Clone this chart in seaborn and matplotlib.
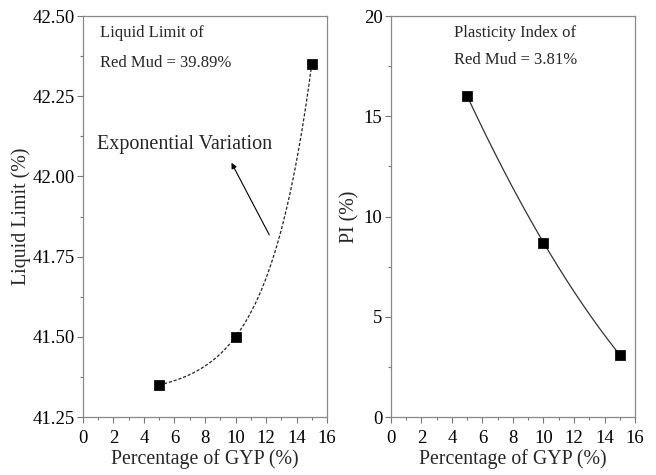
import numpy as np
import pandas as pd
import matplotlib
matplotlib.use("Agg")
import matplotlib.pyplot as plt
from matplotlib.ticker import MultipleLocator, FormatStrFormatter
import seaborn as sns

# Data
gyp = [5, 10, 15]
liquid_limit = [41.35, 41.50, 42.35]
plasticity_index = [16.0, 8.7, 3.1]

x_ticks = [0, 2, 4, 6, 8, 10, 12, 14, 16]
ll_ticks = [41.25, 41.50, 41.75, 42.00, 42.25, 42.50]
pi_ticks = [0, 5, 10, 15, 20]

sns.set_style("ticks")
plt.rcParams['font.family'] = ['Liberation Serif', 'DejaVu Serif']
plt.rcParams['mathtext.fontset'] = 'stix'

fig = plt.figure(figsize=(6.56, 4.75), dpi=100)
ax1 = fig.add_axes([0.1265, 0.1221, 0.372, 0.8442])
ax2 = fig.add_axes([0.596, 0.1221, 0.372, 0.8442])

df = pd.DataFrame({"gyp": gyp, "ll": liquid_limit, "pi": plasticity_index})

# Exponential fit through the three points: y = a + b*exp(c x)
x = np.array(gyp, float)
y = np.array(liquid_limit, float)
c = np.log((y[2] - y[1]) / (y[1] - y[0])) / (x[2] - x[1])
b = (y[1] - y[0]) / (np.exp(c * x[1]) - np.exp(c * x[0]))
a = y[0] - b * np.exp(c * x[0])
xs = np.linspace(x[0], x[2], 200)
fit_ll = pd.DataFrame({"gyp": xs, "ll": a + b * np.exp(c * xs)})

# Quadratic curve through PI points
coef = np.polyfit(x, np.array(plasticity_index, float), 2)
fit_pi = pd.DataFrame({"gyp": xs, "pi": np.polyval(coef, xs)})

sns.lineplot(data=fit_ll, x="gyp", y="ll", ax=ax1, color="#222222",
             linestyle=(0, (2.5, 1.5)), linewidth=0.9)
sns.scatterplot(data=df, x="gyp", y="ll", ax=ax1, marker="s", color="black",
                s=45, edgecolor="black", zorder=5)

sns.lineplot(data=fit_pi, x="gyp", y="pi", ax=ax2, color="#333333", linewidth=0.9)
sns.scatterplot(data=df, x="gyp", y="pi", ax=ax2, marker="s", color="black",
                s=45, edgecolor="black", zorder=5)

for ax in (ax1, ax2):
    ax.set_xlim(0, 16)
    ax.set_xticks(x_ticks)
    ax.xaxis.set_minor_locator(MultipleLocator(1))
    ax.set_xlabel("Percentage of GYP (%)", fontsize=14.3, labelpad=2)
    ax.tick_params(axis="both", which="major", direction="out", length=4,
                   width=0.8, color="#777777", labelsize=13.5, labelcolor="black")
    ax.tick_params(axis="x", which="major", pad=5)
    ax.tick_params(axis="y", which="major", pad=2)
    ax.tick_params(axis="both", which="minor", direction="out", length=2.5,
                   width=0.8, color="#777777")
    for s in ax.spines.values():
        s.set_color("#888888")
        s.set_linewidth(0.9)

ax1.set_ylim(41.25, 42.50)
ax1.set_yticks(ll_ticks)
ax1.yaxis.set_major_formatter(FormatStrFormatter("%.2f"))
ax1.yaxis.set_minor_locator(MultipleLocator(0.125))
ax1.set_ylabel("Liquid Limit (%)", fontsize=14.3, labelpad=1)

ax2.set_ylim(0, 20)
ax2.set_yticks(pi_ticks)
ax2.yaxis.set_minor_locator(MultipleLocator(2.5))
ax2.set_ylabel("PI (%)", fontsize=14.3, labelpad=3)

ax1.text(0.068, 0.957, "Liquid Limit of", transform=ax1.transAxes,
         fontsize=12, ha="left", va="center")
ax1.text(0.068, 0.883, "Red Mud = 39.89%", transform=ax1.transAxes,
         fontsize=12, ha="left", va="center")

ax1.annotate("", xy=(9.65, 42.05), xytext=(12.3, 41.81),
             arrowprops=dict(arrowstyle="-|>", color="black", lw=0.8,
                             mutation_scale=8))
ax1.text(6.65, 42.10, "Exponential Variation", fontsize=14.5,
         ha="center", va="center")

ax2.text(0.51, 0.957, "Plasticity Index of", transform=ax2.transAxes,
         fontsize=12, ha="center", va="center")
ax2.text(0.51, 0.89, "Red Mud = 3.81%", transform=ax2.transAxes,
         fontsize=12, ha="center", va="center")

fig.savefig("out.png", dpi=100)
